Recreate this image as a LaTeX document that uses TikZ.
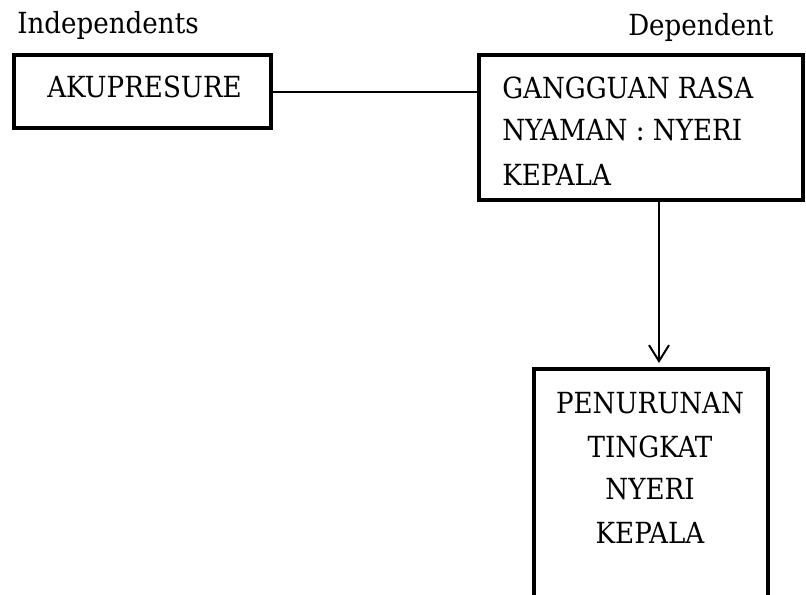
\documentclass[tikz,border=0pt]{standalone}
\usepackage{fontspec}
\setmainfont{DejaVu Serif Condensed}
\usetikzlibrary{arrows.meta}
\tikzset{
  box/.style={draw, line width=3pt, inner sep=0pt},
  lbl/.style={inner sep=0pt, font=\fontsize{21.8}{26}\selectfont},
  conn/.style={line width=1.5pt},
}
\begin{document}
\begin{tikzpicture}[x=0.75pt, y=-0.75pt]
\useasboundingbox (0,0) rectangle (806,594);
\clip (0,0) rectangle (806,594);
% boxes
\node[box, minimum width=192.75pt, minimum height=54.75pt] (akup) at (142.5,91.5) {};
\node[box, minimum width=243pt, minimum height=108.75pt] (gang) at (641,127.5) {};
\node[box, minimum width=175.5pt, minimum height=188.25pt] (pen) at (651,494.5) {};
% headers
\node[lbl, anchor=base west] (indep) at (17,33) {Independents};
\node[lbl, anchor=base west] (dep) at (628,35) {Dependent};
% box texts
\node[lbl, anchor=base west] (akuptxt) at (47,97) {AKUPRESURE};
\node[lbl, anchor=base west] (g1) at (502,98) {GANGGUAN RASA};
\node[lbl, anchor=base west] (g2) at (502,140.5) {NYAMAN : NYERI};
\node[lbl, anchor=base west] (g3) at (502,185) {KEPALA};
\node[lbl, anchor=base] (p1) at (650,413) {PENURUNAN};
\node[lbl, anchor=base] (p2) at (650,457) {TINGKAT};
\node[lbl, anchor=base] (p3) at (650,499) {NYERI};
\node[lbl, anchor=base] (p4) at (650,543) {KEPALA};
% connectors
\coordinate (ax) at (659,0);
\draw[conn] (akup.east) -- (akup.east -| gang.west);
\draw[conn, -{Straight Barb[length=12pt, width=15pt, line width=1.5pt]}] (ax |- gang.south) -- ([yshift=3pt]ax |- pen.north);
\end{tikzpicture}
\end{document}
